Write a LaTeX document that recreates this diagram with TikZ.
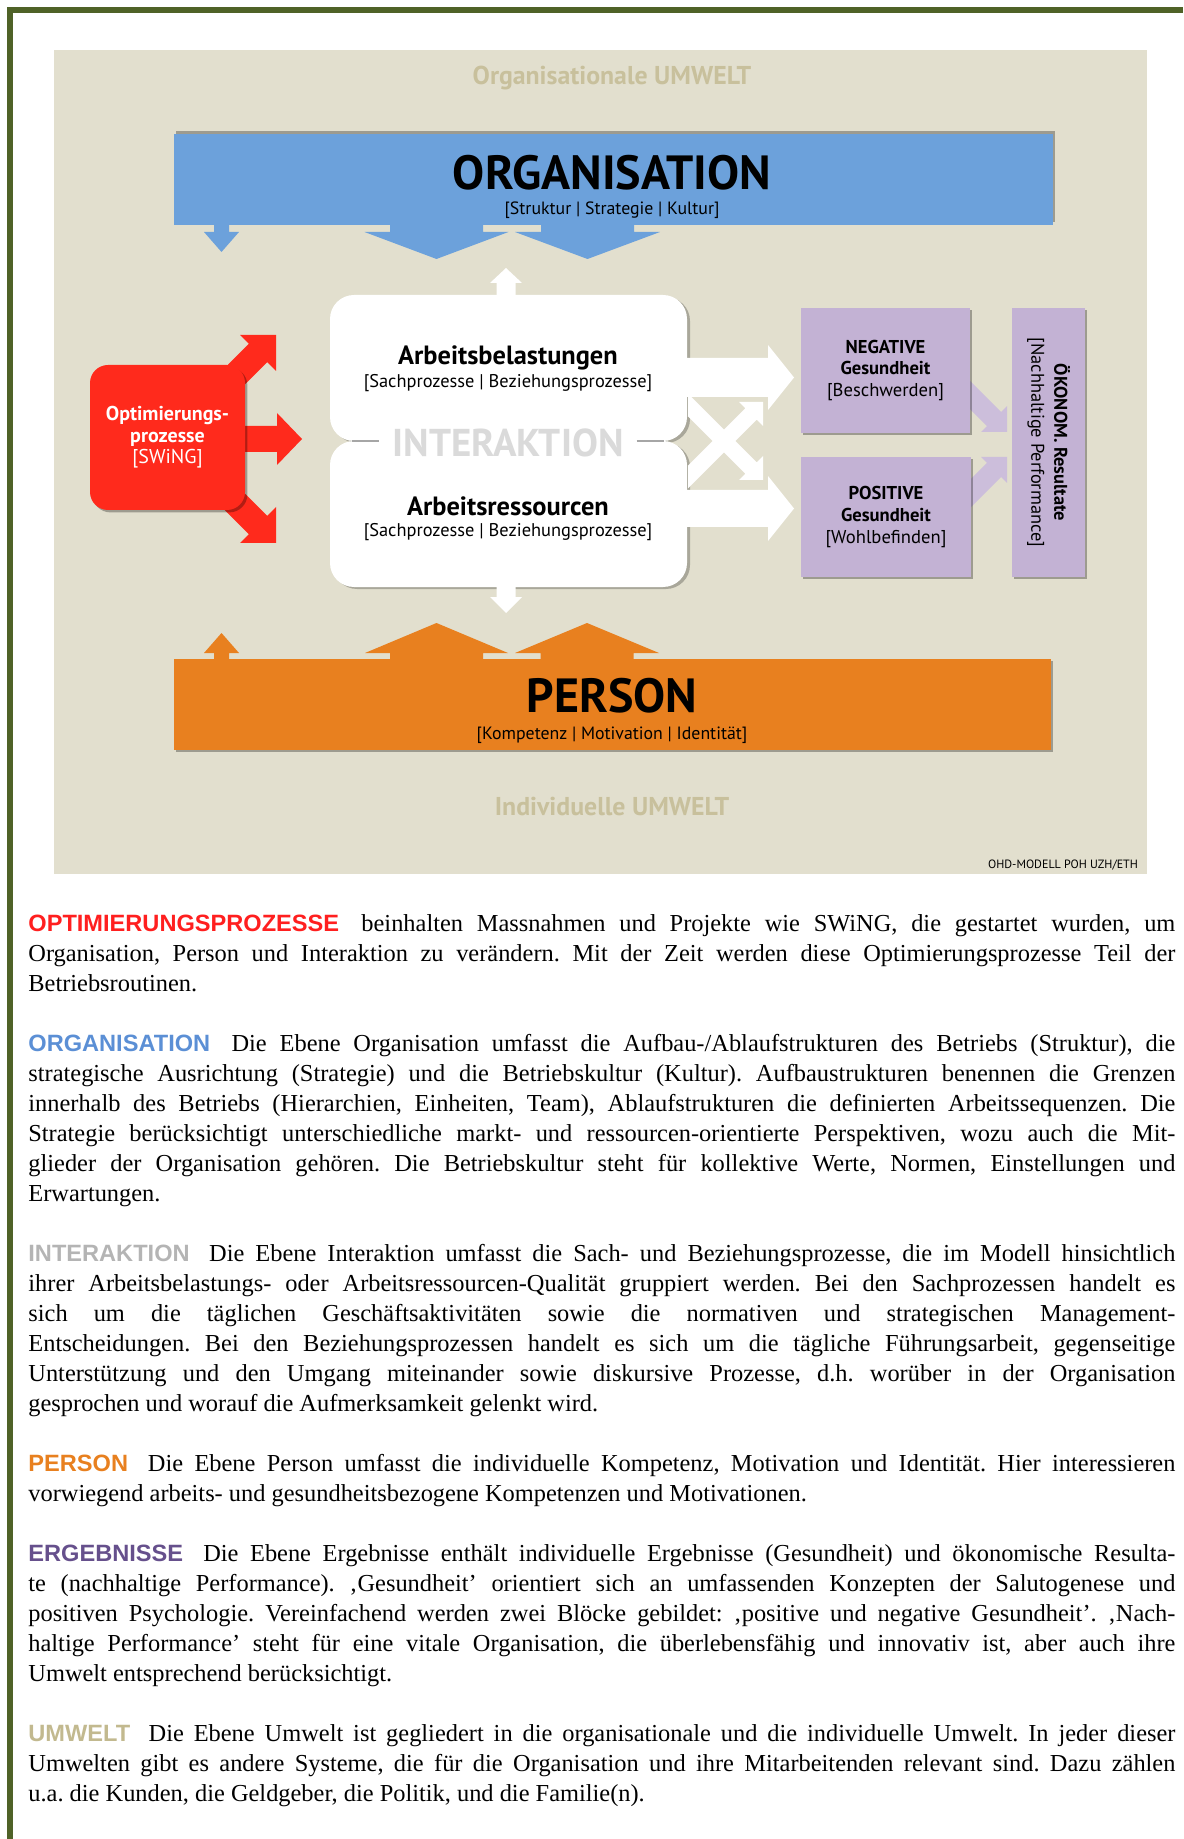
\documentclass[tikz,border=0pt]{standalone}
\usepackage{fontspec}
\usepackage{xcolor}
\usepackage{tikz}
\usetikzlibrary{shadows}
\setmainfont{Liberation Serif}
\newfontfamily\diafont{PT Sans}
\newfontfamily\headfont{Liberation Sans}
\definecolor{border}{HTML}{4F6228}
\definecolor{env}{HTML}{E2DFCE}
\definecolor{envtext}{HTML}{C8C09C}
\definecolor{orgblue}{HTML}{6CA1DB}
\definecolor{persorange}{HTML}{E8801F}
\definecolor{optred}{HTML}{FF2A1C}
\definecolor{outpurple}{HTML}{C3B2D4}
\definecolor{outarrow}{HTML}{CCBEDB}
\definecolor{intgray}{HTML}{DADADA}
\definecolor{opthead}{HTML}{FF1F1F}
\definecolor{orghead}{HTML}{5B8FD5}
\definecolor{inthead}{HTML}{B4B4B4}
\definecolor{erghead}{HTML}{66508C}
\definecolor{envhead}{HTML}{C2B98F}
\tolerance=9999
\emergencystretch=2em
\frenchspacing
\newcommand\headword[2]{\textcolor{#1}{\headfont\bfseries\fontsize{11.8}{15}\selectfont #2}\hspace{0.35em}}
\tikzset{
  box/.style={anchor=north west, inner sep=0pt, outer sep=0pt},
  bar/.style={box, minimum height=45.5pt},
  shdown/.style={drop shadow={shadow xshift=1.2pt, shadow yshift=-1.2pt, fill=black, opacity=.3}},
  ibox/.style={box, fill=white, rounded corners=12pt, minimum width=178.5pt, minimum height=73pt,
    drop shadow={shadow xshift=1.5pt, shadow yshift=-1pt, fill=black, opacity=.25}},
  optbox/.style={box, fill=optred, rounded corners=9pt, minimum width=77.5pt, minimum height=72.5pt,
    shdown, text=white, align=center, font=\diafont\bfseries\fontsize{10}{10.7}\selectfont},
  outbox/.style={box, fill=outpurple, shdown, align=center, font=\diafont\bfseries\fontsize{9.3}{10.9}\selectfont},
  lvltitle/.style={font=\diafont\bfseries\fontsize{24}{26}\selectfont},
  lvlsub/.style={font=\diafont\fontsize{8.9}{10}\selectfont},
  ihead/.style={font=\diafont\bfseries\fontsize{13.2}{15}\selectfont},
  isub/.style={font=\diafont\fontsize{9.2}{10}\selectfont},
  itag/.style={text=intgray, font=\diafont\bfseries\fontsize{19.4}{21}\selectfont},
  irule/.style={draw=gray!70, line width=1pt},
  envlab/.style={text=envtext, font=\diafont\bfseries\fontsize{12.9}{14}\selectfont},
  para/.style={anchor=base west, inner sep=0pt, text width=573.5pt, align=justify,
    font=\fontsize{12.2}{15}\selectfont},
}
\begin{document}
\begin{tikzpicture}[x=0.5pt,y=-0.5pt]
  \useasboundingbox (0,0) rectangle (1183,1839);
  % frame and environment
  \fill[border] (7,7) rectangle (1183,13);
  \fill[border] (7,7) rectangle (13,1839);
  \fill[env] (54,50) rectangle (1147,874);
  \node[envlab] (orgenv) at (612,78) {Organisationale UMWELT};
  \node[envlab] (indenv) at (612,807) {Individuelle UMWELT};

  % organisation
  \node[bar, fill=orgblue, minimum width=439.5pt,
    drop shadow={shadow xshift=1pt, shadow yshift=1.5pt, fill=black, opacity=.3}] (org) at (174,134) {};
  \foreach \cx/\sw/\hw/\tip in {221.5/7.5/17.5/252, 436.5/46.5/72/259, 587.5/46.5/72.5/259}
    \fill[orgblue] ({\cx-\sw},222) -- ({\cx-\sw},232) -- ({\cx-\hw},232) -- (\cx,\tip)
      -- ({\cx+\hw},232) -- ({\cx+\sw},232) -- ({\cx+\sw},222) -- cycle;
  \node[lvltitle] (orgname) at (612,172.5) {ORGANISATION};
  \node[lvlsub] (orgsub) at (612,210) {[Struktur | Strategie | Kultur]};

  % person
  \node[bar, fill=persorange, minimum width=438.5pt, shdown] (pers) at (174,659) {};
  \foreach \cx/\sw/\hw/\tip in {221.5/7.5/17.5/633, 436.5/46.5/71.5/623, 587/46.5/72/623}
    \fill[persorange] ({\cx-\sw},662) -- ({\cx-\sw},653) -- ({\cx-\hw},653) -- (\cx,\tip)
      -- ({\cx+\hw},653) -- ({\cx+\sw},653) -- ({\cx+\sw},662) -- cycle;
  \node[lvltitle] (persname) at (612,696) {PERSON};
  \node[lvlsub] (perssub) at (612,735) {[Kompetenz | Motivation | Identität]};

  % optimierung
  \fill[optred] (240,426) -- (277,426) -- (277,413) -- (302,439) -- (277,465) -- (277,452) -- (240,452) -- cycle;
  \fill[optred] (276,335) -- (276,371) -- (267.2,362.2) -- (209.2,420.2) -- (190.8,401.8) -- (248.8,343.8) -- (240,335) -- cycle;
  \fill[optred] (276,543) -- (276,507) -- (267.2,515.8) -- (209.2,457.8) -- (190.8,476.2) -- (248.8,534.2) -- (240,543) -- cycle;
  \node[optbox] (opt) at (90,365) {Optimierungs-\\prozesse\\{\mdseries [SWiNG]}};

  % interaktion
  \node[ibox] (load) at (330,295) {};
  \node[ibox] (res) at (330,441) {};
  \fill[white] (496.5,300) -- (496.5,283) -- (490,283) -- (506,268) -- (522,283) -- (515.5,283) -- (515.5,300) -- cycle;
  \fill[white] (496.5,580) -- (496.5,597) -- (490,597) -- (506,613) -- (522,597) -- (515.5,597) -- (515.5,580) -- cycle;
  \fill[white] (682,358) -- (768,358) -- (768,345) -- (794,377.5) -- (768,410) -- (768,397) -- (682,397) -- cycle;
  \fill[white] (682,490) -- (768,490) -- (768,476) -- (794,508.5) -- (768,541) -- (768,527) -- (682,527) -- cycle;
  \fill[white] (763,402) -- (763,426) -- (756.7,419.7) -- (688,488.3) -- (688,465.7) -- (745.3,408.3) -- (739,402) -- cycle;
  \fill[white] (763,480) -- (763,456) -- (756.7,462.3) -- (688,393.7) -- (688,416.3) -- (745.3,473.7) -- (739,480) -- cycle;
  \node[ihead] (loadname) at (508,358) {Arbeitsbelastungen};
  \node[isub] (loadsub) at (508,383) {[Sachprozesse | Beziehungsprozesse]};
  \node[itag] (itag) at (508,443) {INTERAKTION};
  \node[ihead] (resname) at (508,506) {Arbeitsressourcen};
  \node[isub] (ressub) at (508,532) {[Sachprozesse | Beziehungsprozesse]};
  \draw[irule] (352,441) -- ([xshift=-3pt]itag.west |- 0,441);
  \draw[irule] ([xshift=3pt]itag.east |- 0,441) -- (664,441);

  % ergebnisse
  \fill[outarrow] (1007,432) -- (981,432) -- (986.9,426.1) -- (942.9,382.1) -- (957.1,367.9) -- (1001.1,411.9) -- (1007,406) -- cycle;
  \fill[outarrow] (1007,457) -- (981,457) -- (986.9,462.9) -- (942.9,506.9) -- (957.1,521.1) -- (1001.1,477.1) -- (1007,483) -- cycle;
  \node[outbox, minimum width=84.5pt, minimum height=62.5pt] (neg) at (801,308) {NEGATIVE\\Gesundheit\\{\mdseries [Beschwerden]}};
  \node[outbox, minimum width=85pt, minimum height=60pt] (pos) at (801,457) {POSITIVE\\Gesundheit\\{\mdseries [Wohlbefinden]}};
  \node[outbox, minimum width=36.5pt, minimum height=134.5pt] (oek) at (1012,308) {};
  \node[rotate=-90, align=center, font=\diafont\bfseries\fontsize{9.2}{11.5}\selectfont] (oektext) at (oek.center)
    {ÖKONOM. Resultate\\{\mdseries [Nachhaltige Performance]}};

  \node[font=\diafont\fontsize{6}{7}\selectfont] (credit) at (1063,865) {OHD-MODELL POH UZH/ETH};

  % legend text
  \node[para] (popt) at (28,931) {\headword{opthead}{OPTIMIERUNGSPROZESSE} beinhalten Massnahmen und Projekte wie SWiNG, die gestartet wurden, um\linebreak
    Organisation, Person und Interaktion zu verändern. Mit der Zeit werden diese Optimierungsprozesse Teil der\linebreak
    Betriebsroutinen.};
  \node[para] (porg) at (28,1051) {\headword{orghead}{ORGANISATION} Die Ebene Organisation umfasst die Aufbau-/Ablaufstrukturen des Betriebs (Struktur), die\linebreak
    strategische Ausrichtung (Strategie) und die Betriebskultur (Kultur). Aufbaustrukturen benennen die Grenzen\linebreak
    innerhalb des Betriebs (Hierarchien, Einheiten, Team), Ablaufstrukturen die definierten Arbeitssequenzen. Die\linebreak
    Strategie berücksichtigt unterschiedliche markt- und ressourcen-orientierte Perspektiven, wozu auch die Mit-\linebreak
    glieder der Organisation gehören. Die Betriebskultur steht für kollektive Werte, Normen, Einstellungen und\linebreak
    Erwartungen.};
  \node[para] (pint) at (28,1261) {\headword{inthead}{INTERAKTION} Die Ebene Interaktion umfasst die Sach- und Beziehungsprozesse, die im Modell hinsichtlich\linebreak
    ihrer Arbeitsbelastungs- oder Arbeitsressourcen-Qualität gruppiert werden. Bei den Sachprozessen handelt es\linebreak
    sich um die täglichen Geschäftsaktivitäten sowie die normativen und strategischen Management-\linebreak
    Entscheidungen. Bei den Beziehungsprozessen handelt es sich um die tägliche Führungsarbeit, gegenseitige\linebreak
    Unterstützung und den Umgang miteinander sowie diskursive Prozesse, d.h. worüber in der Organisation\linebreak
    gesprochen und worauf die Aufmerksamkeit gelenkt wird.};
  \node[para] (ppers) at (28,1471) {\headword{persorange}{PERSON} Die Ebene Person umfasst die individuelle Kompetenz, Motivation und Identität. Hier interessieren\linebreak
    vorwiegend arbeits- und gesundheitsbezogene Kompetenzen und Motivationen.};
  \node[para] (perg) at (28,1561) {\headword{erghead}{ERGEBNISSE} Die Ebene Ergebnisse enthält individuelle Ergebnisse (Gesundheit) und ökonomische Resulta-\linebreak
    te (nachhaltige Performance). ‚Gesundheit’ orientiert sich an umfassenden Konzepten der Salutogenese und\linebreak
    positiven Psychologie. Vereinfachend werden zwei Blöcke gebildet: ‚positive und negative Gesundheit’. ‚Nach-\linebreak
    haltige Performance’ steht für eine vitale Organisation, die überlebensfähig und innovativ ist, aber auch ihre\linebreak
    Umwelt entsprechend berücksichtigt.};
  \node[para] (penv) at (28,1741) {\headword{envhead}{UMWELT} Die Ebene Umwelt ist gegliedert in die organisationale und die individuelle Umwelt. In jeder dieser\linebreak
    Umwelten gibt es andere Systeme, die für die Organisation und ihre Mitarbeitenden relevant sind. Dazu zählen\linebreak
    u.a. die Kunden, die Geldgeber, die Politik, und die Familie(n).};
\end{tikzpicture}
\end{document}
